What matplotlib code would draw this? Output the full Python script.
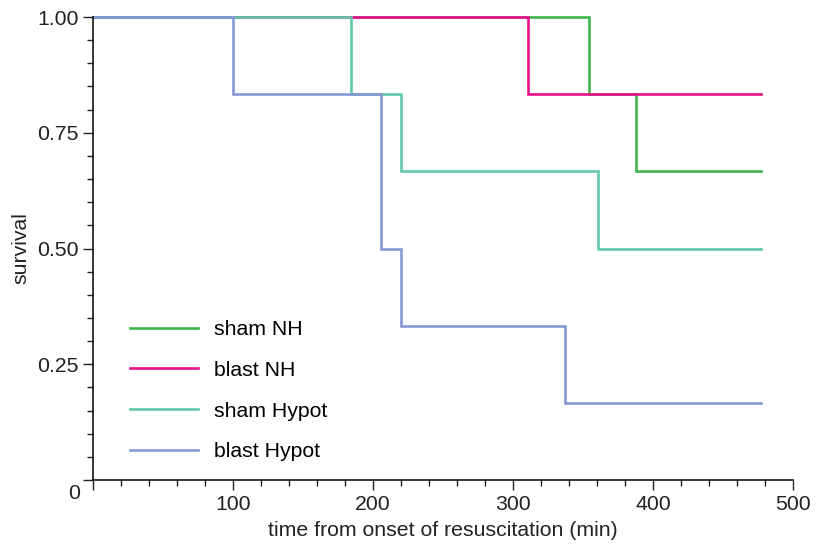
import numpy as np
import matplotlib
matplotlib.use("Agg")
import matplotlib.pyplot as plt
from matplotlib.ticker import MultipleLocator

plt.rcParams["font.family"] = ["Liberation Sans", "DejaVu Sans"]

# ==========================================
# DATA (Kaplan-Meier steps)
# ==========================================

labels = ["sham NH", "blast NH", "sham Hypot", "blast Hypot"]
colors = ["#3db54a", "#e8118a", "#63c7ad", "#8498d2"]

sham_nh_t = [0, 354, 388, 477]
sham_nh_s = [1.0, 0.833, 0.667, 0.667]

blast_nh_t = [0, 311, 477]
blast_nh_s = [1.0, 0.833, 0.833]

sham_hypot_t = [0, 184, 220, 361, 477]
sham_hypot_s = [1.0, 0.833, 0.667, 0.5, 0.5]

blast_hypot_t = [0, 100, 206, 220, 337, 477]
blast_hypot_s = [1.0, 0.833, 0.5, 0.333, 0.167, 0.167]

series = [
    (sham_nh_t, sham_nh_s),
    (blast_nh_t, blast_nh_s),
    (sham_hypot_t, sham_hypot_s),
    (blast_hypot_t, blast_hypot_s),
]

FS = 15.3

# ==========================================
# PLOT
# ==========================================

fig = plt.figure(figsize=(8.19, 5.44), dpi=100)
ax = fig.add_axes([0.1136, 0.1176, 0.8547, 0.8511])

for (t, s), lab, col in zip(series, labels, colors):
    ax.step(t, s, where="post", color=col, linewidth=1.9,
            label=lab, clip_on=False, solid_joinstyle="miter")

ax.set_xlim(0, 500)
ax.set_ylim(0, 1.0)

ax.spines["top"].set_visible(False)
ax.spines["right"].set_visible(False)
ax.spines["left"].set_linewidth(1.1)
ax.spines["bottom"].set_linewidth(1.1)

ax.set_xticks([0, 100, 200, 300, 400, 500])
ax.set_xticklabels(["", "100", "200", "300", "400", "500"])
ax.xaxis.set_minor_locator(MultipleLocator(20))
ax.set_yticks([0, 0.25, 0.5, 0.75, 1.0])
ax.set_yticklabels(["", "0.25", "0.50", "0.75", "1.00"])
ax.yaxis.set_minor_locator(MultipleLocator(0.05))

ax.tick_params(which="major", direction="out", length=7.5, width=1.0,
               labelsize=FS, colors="#222222", pad=3)
ax.tick_params(which="minor", direction="out", length=4.5, width=1.0,
               colors="#222222")

ax.text(-0.019, -0.03, "0", transform=ax.transAxes, ha="right", va="center",
        fontsize=FS, color="#222222")

ax.set_xlabel("time from onset of resuscitation (min)", fontsize=FS,
              color="#222222", labelpad=5)
ax.set_ylabel("survival", fontsize=FS, color="#222222", labelpad=5)

ax.legend(loc="center left", bbox_to_anchor=(0.053, 0.193), frameon=False,
          fontsize=FS, handlelength=3.2, handletextpad=0.75,
          labelspacing=1.02, borderpad=0, borderaxespad=0)

fig.savefig("out.png", dpi=100)
